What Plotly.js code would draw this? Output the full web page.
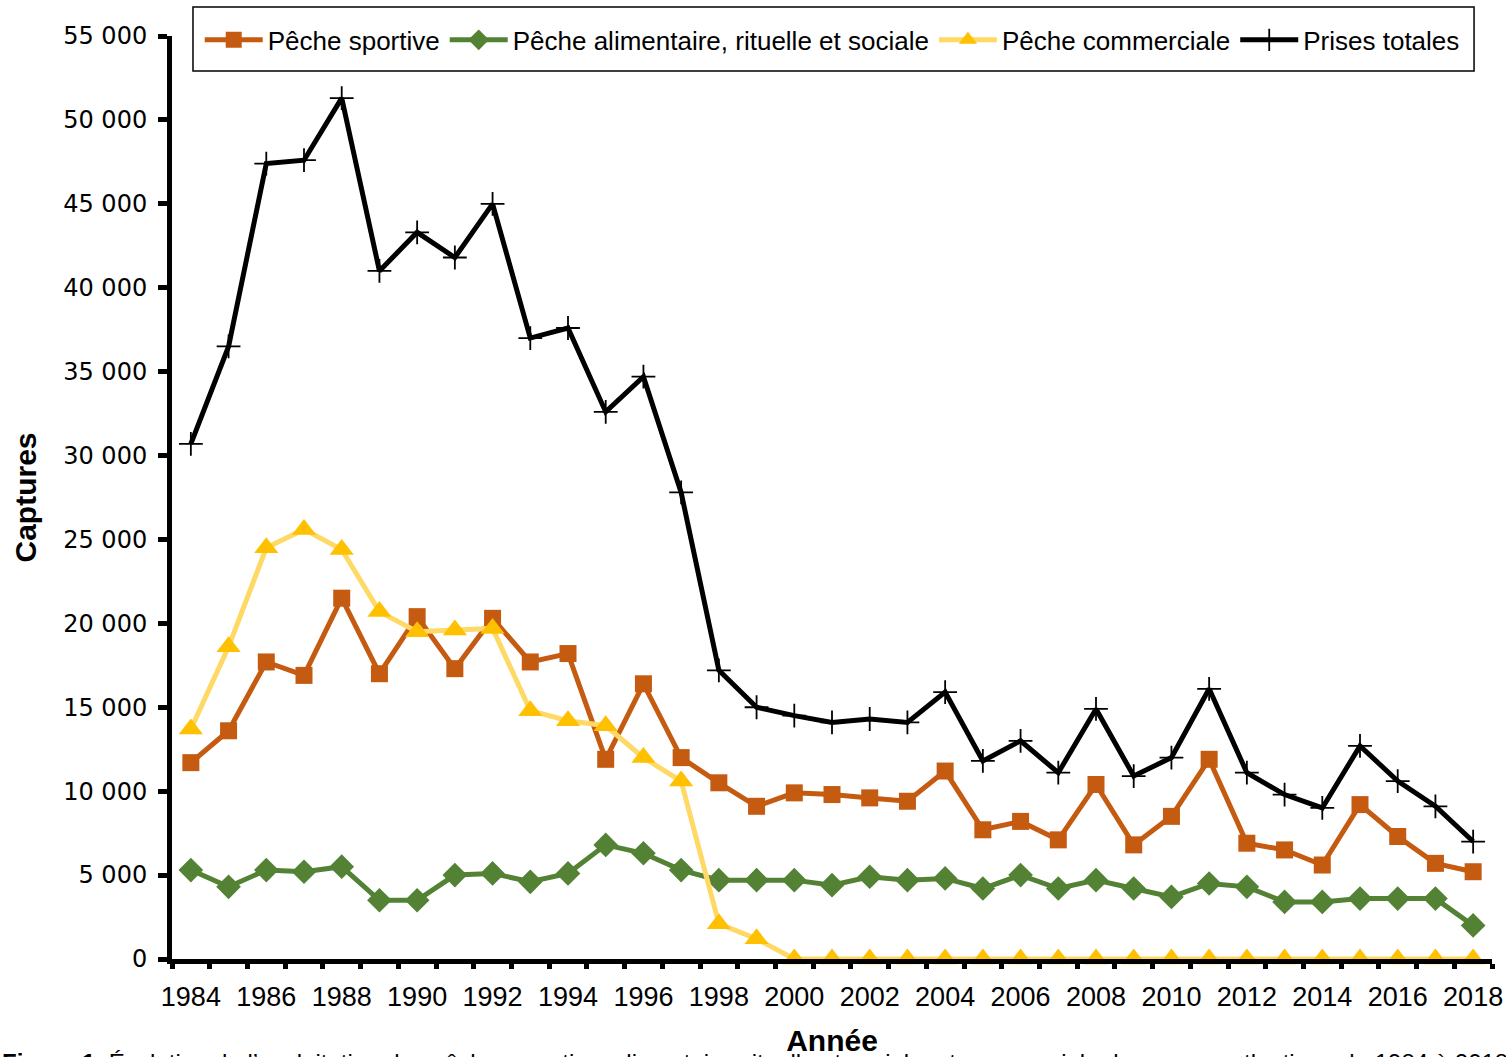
<!DOCTYPE html>
<html>
<head>
<meta charset="utf-8">
<script src="https://cdn.plot.ly/plotly-3.0.1.min.js"></script>
<style>
  html, body { margin: 0; padding: 0; background: #fff; }
  #chart { width: 1506px; height: 1057px; }
</style>
</head>
<body>
<div id="chart"></div>
<script>
const years = [1984,1985,1986,1987,1988,1989,1990,1991,1992,1993,1994,1995,1996,1997,1998,1999,2000,2001,2002,2003,2004,2005,2006,2007,2008,2009,2010,2011,2012,2013,2014,2015,2016,2017,2018];

const pecheSportive = [11700,13600,17700,16900,21500,17000,20400,17300,20300,17700,18200,11900,16400,12000,10500,9100,9900,9800,9600,9400,11200,7700,8200,7100,10400,6800,8500,11900,6900,6500,5600,9200,7300,5700,5200];

const pecheAlimentaire = [5300,4300,5300,5200,5500,3500,3500,5000,5100,4600,5100,6800,6300,5300,4700,4700,4700,4400,4900,4700,4800,4200,5000,4200,4700,4200,3700,4500,4300,3400,3400,3600,3600,3600,2000];

const pecheCommerciale = [13700,18600,24500,25600,24400,20700,19500,19600,19700,14800,14200,13900,12000,10600,2100,1200,0,0,0,0,0,0,0,0,0,0,0,0,0,0,0,0,0,0,0];

const prisesTotales = [30700,36500,47400,47600,51300,41000,43300,41800,45000,37000,37600,32600,34700,27800,17200,15000,14500,14100,14300,14100,15900,11800,13000,11100,14900,10900,12000,16100,11100,9800,9000,12700,10600,9100,7000];

const seriesNames = ["Pêche sportive", "Pêche alimentaire, rituelle et sociale", "Pêche commerciale", "Prises totales"];

const yTickVals = [0,5000,10000,15000,20000,25000,30000,35000,40000,45000,50000,55000];
const yTickText = ["0","5 000","10 000","15 000","20 000","25 000","30 000","35 000","40 000","45 000","50 000","55 000"];
const xTickVals = years.filter(y => (y - 1984) % 2 === 0);
const xTickText = xTickVals.map(String);

const FONT = '"Liberation Sans", Arial, sans-serif';
const WIDE = '"DejaVu Sans", Verdana, sans-serif';

const traces = [
  {
    x: years, y: pecheSportive, name: seriesNames[0], type: 'scatter', mode: 'lines+markers',
    line: {color: '#C55A11', width: 5},
    marker: {symbol: 'square', size: 17, color: '#C55A11'},
    cliponaxis: false
  },
  {
    x: years, y: pecheAlimentaire, name: seriesNames[1], type: 'scatter', mode: 'lines+markers',
    line: {color: '#548235', width: 5},
    marker: {symbol: 'diamond', size: 19, color: '#548235'},
    cliponaxis: false
  },
  {
    x: years, y: pecheCommerciale, name: seriesNames[2], type: 'scatter', mode: 'lines+markers',
    line: {color: '#FFD966', width: 5},
    marker: {symbol: 'triangle-up', size: 21, color: '#FFC000'},
    cliponaxis: false
  },
  {
    x: years, y: prisesTotales, name: seriesNames[3], type: 'scatter', mode: 'lines+markers',
    line: {color: '#000000', width: 5},
    marker: {symbol: 'cross-thin', size: 17, color: '#000000', line: {color: '#000000', width: 1.8}},
    cliponaxis: false
  }
];

const layout = {
  width: 1506, height: 1057,
  margin: {l: 172, r: 14, t: 36, b: 98},
  paper_bgcolor: '#ffffff', plot_bgcolor: '#ffffff',
  font: {family: FONT, color: '#000', size: 24},
  showlegend: true,
  legend: {
    orientation: 'h', x: 0.021, xanchor: 'left', y: 0.9957, yanchor: 'middle',
    font: {family: FONT, size: 26, color: '#000'},
    bgcolor: 'rgba(0,0,0,0)', borderwidth: 0,
    itemwidth: 58, traceorder: 'normal'
  },
  xaxis: {
    type: 'linear', range: [1983.5, 2018.5],
    tickmode: 'array', tickvals: xTickVals, ticktext: xTickText,
    ticks: '', showgrid: false, zeroline: false,
    showline: true, linecolor: '#000', linewidth: 5,
    ticklabelstandoff: 10,
    tickfont: {family: FONT, size: 27, color: '#000'},
    minor: {tickmode: 'linear', tick0: 1983.5, dtick: 1, ticks: 'outside', ticklen: 5, tickwidth: 5, tickcolor: '#000', showgrid: false},
    title: {text: '<b>Année</b>', font: {family: FONT, size: 30, color: '#000'}, standoff: 24}
  },
  yaxis: {
    range: [0, 55000],
    tickmode: 'array', tickvals: yTickVals, ticktext: yTickText,
    ticks: 'outside', ticklen: 9, tickwidth: 5, tickcolor: '#000',
    showgrid: false, zeroline: false,
    showline: true, linecolor: '#000', linewidth: 5,
    ticklabelstandoff: 6,
    tickfont: {family: WIDE, size: 24, color: '#000'},
    title: {text: '<b>Captures</b>', font: {family: FONT, size: 30, color: '#000'}, standoff: 19}
  },
  shapes: [
    {type: 'rect', xref: 'paper', yref: 'paper', x0: 0.0159, x1: 0.9864, y0: 0.962, y1: 1.0314,
     line: {color: '#000', width: 1.5}, fillcolor: 'rgba(0,0,0,0)', layer: 'below'}
  ],
  annotations: [
    {xref: 'paper', yref: 'paper', x: -0.13, y: -0.0953, xanchor: 'left', yanchor: 'top', showarrow: false,
     align: 'left',
     text: '<b>Figure 1.</b> Évolution de l\u2019exploitation des pêches sportive, alimentaire, rituelle et sociale, et commerciale du saumon atlantique de 1984 à 2018',
     font: {family: FONT, size: 24, color: '#000'}}
  ]
};

Plotly.newPlot('chart', traces, layout, {displayModeBar: false, responsive: false});
</script>
</body>
</html>
